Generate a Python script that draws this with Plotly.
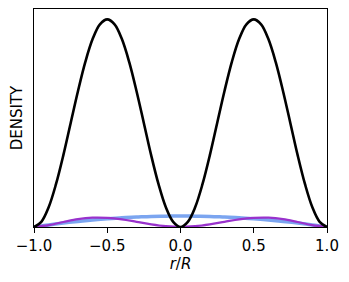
import plotly.graph_objects as go

# x positions for the main (black) density curve
r_fine = [-1.0, -0.95, -0.9, -0.85, -0.8, -0.75, -0.7, -0.65, -0.6, -0.55, -0.5,
          -0.45, -0.4, -0.35, -0.3, -0.25, -0.2, -0.15, -0.1, -0.05, 0.0,
          0.05, 0.1, 0.15, 0.2, 0.25, 0.3, 0.35, 0.4, 0.45, 0.5,
          0.55, 0.6, 0.65, 0.7, 0.75, 0.8, 0.85, 0.9, 0.95, 1.0]
density_black = [0.0, 0.025, 0.095, 0.206, 0.345, 0.50, 0.654, 0.794, 0.905, 0.976, 1.0,
                 0.976, 0.905, 0.794, 0.654, 0.50, 0.345, 0.206, 0.095, 0.025, 0.0,
                 0.025, 0.095, 0.206, 0.345, 0.50, 0.654, 0.794, 0.905, 0.976, 1.0,
                 0.976, 0.905, 0.794, 0.654, 0.50, 0.345, 0.206, 0.095, 0.025, 0.0]

# x positions for the small curves
r_coarse = [-1.0, -0.9, -0.8, -0.7, -0.6, -0.5, -0.4, -0.3, -0.2, -0.1, 0.0,
            0.1, 0.2, 0.3, 0.4, 0.5, 0.6, 0.7, 0.8, 0.9, 1.0]
density_blue = [0.0, 0.010, 0.019, 0.027, 0.034, 0.040, 0.045, 0.048, 0.051, 0.052, 0.053,
                0.052, 0.051, 0.048, 0.045, 0.040, 0.034, 0.027, 0.019, 0.010, 0.0]
density_purple = [0.0, 0.009, 0.024, 0.038, 0.045, 0.044, 0.037, 0.025, 0.013, 0.004, 0.0,
                  0.004, 0.013, 0.025, 0.037, 0.044, 0.045, 0.038, 0.024, 0.009, 0.0]

tick_vals = [-1.0, -0.5, 0.0, 0.5, 1.0]
tick_text = ["\u22121.0", "\u22120.5", "0.0", "0.5", "1.0"]

fig = go.Figure()
fig.add_trace(go.Scatter(x=r_coarse, y=density_blue, mode="lines",
                         line=dict(color="rgba(100,149,237,0.85)", width=3.5, shape="spline"),
                         showlegend=False))
fig.add_trace(go.Scatter(x=r_coarse, y=density_purple, mode="lines",
                         line=dict(color="#9932CC", width=2.2, shape="spline"),
                         showlegend=False))
fig.add_trace(go.Scatter(x=r_fine, y=density_black, mode="lines",
                         line=dict(color="black", width=2.6, shape="spline"),
                         showlegend=False))

font = dict(family="DejaVu Sans", size=15, color="black")
fig.update_layout(
    width=349, height=282,
    margin=dict(l=34, r=22, t=9, b=55),
    paper_bgcolor="white", plot_bgcolor="white",
    font=font,
    xaxis=dict(range=[-1, 1], tickvals=tick_vals, ticktext=tick_text,
               ticks="outside", ticklen=5, tickwidth=1, tickcolor="black",
               showline=True, linecolor="black", linewidth=1, mirror=True,
               showgrid=False, zeroline=False, automargin=False,
               title=dict(text="<i>r</i>/<i>R</i>", standoff=2, font=font)),
    yaxis=dict(range=[0, 1.05], showticklabels=False, ticks="",
               showline=True, linecolor="black", linewidth=1, mirror=True,
               showgrid=False, zeroline=False, automargin=False,
               title=dict(text="DENSITY", standoff=6, font=font)),
)
fig.write_html("out.html", config={"displayModeBar": False},
               post_script="document.body.style.margin='0';")
